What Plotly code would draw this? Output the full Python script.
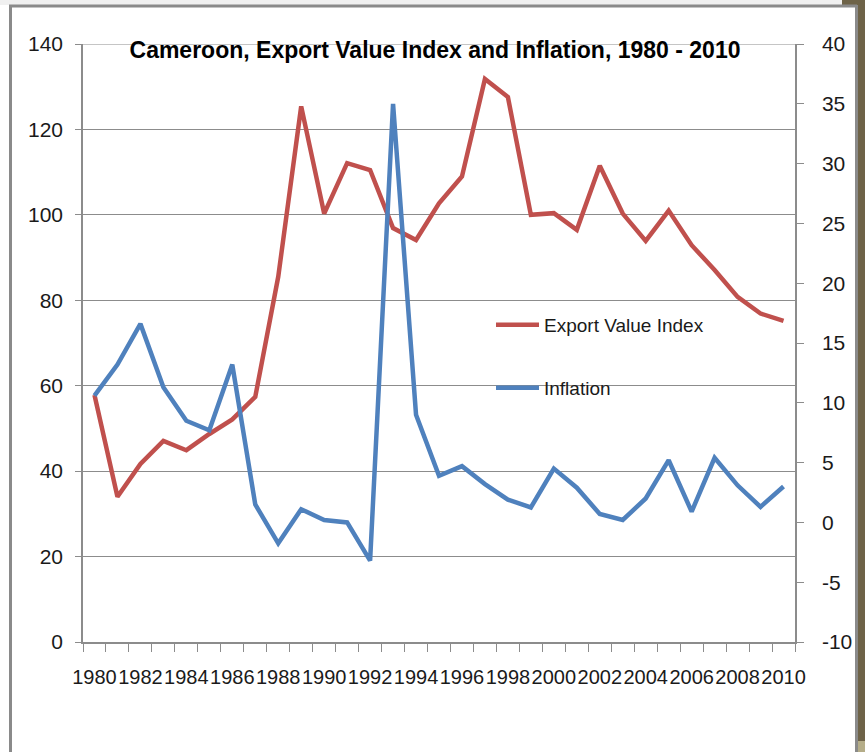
import plotly.graph_objects as go

years = list(range(1980, 2011))
export_value_index = [57.8, 34.0, 41.7, 47.1, 44.9, 48.7, 52.1, 57.4, 85.5, 125.4,
                      100.3, 112.1, 110.5, 96.9, 94.1, 102.7, 109.0, 131.8, 127.6, 100.0,
                      100.4, 96.5, 111.5, 100.3, 93.9, 101.0, 92.9, 87.1, 80.8, 76.9, 75.2]
inflation = [10.6, 13.2, 16.6, 11.3, 8.5, 7.7, 13.2, 1.5, -1.75, 1.1,
             0.2, 0.0, -3.2, 35.0, 9.0, 3.9, 4.7, 3.2, 1.9, 1.25,
             4.5, 2.9, 0.7, 0.2, 2.0, 5.2, 0.9, 5.4, 3.1, 1.3, 3.0]
left_ticks = [0, 20, 40, 60, 80, 100, 120, 140]
right_ticks = [-10, -5, 0, 5, 10, 15, 20, 25, 30, 35, 40]
right_tick_labels = ["-10", "-5", "0", "5", "10", "15", "20", "25", "30", "35", "40"]
title_text = "Cameroon, Export Value Index and Inflation, 1980 - 2010"

FONT = "Liberation Sans, Arial, sans-serif"
RED = "#C0504D"
BLUE = "#4F81BD"
GRID = "#8C8C8C"

W, H = 865, 752
L, R, T, B = 83, 795, 44, 642

def px(x):
    return (x - L) / (R - L)

def py(y):
    return (B - y) / (B - T)

fig = go.Figure()
fig.add_trace(go.Scatter(x=years, y=export_value_index, mode="lines", name="Export Value Index",
                         line=dict(color=RED, width=4.5), yaxis="y", legend="legend", showlegend=True))
fig.add_trace(go.Scatter(x=years, y=inflation, mode="lines", name="Inflation",
                         line=dict(color=BLUE, width=4.5), yaxis="y2", legend="legend2", showlegend=True))

shapes = []
shapes.append(dict(type="rect", xref="paper", yref="paper", x0=px(0), x1=px(842), y0=py(0), y1=py(5),
                   fillcolor="#F0F0F0", line=dict(width=0), layer="below"))
shapes.append(dict(type="rect", xref="paper", yref="paper", x0=px(842), x1=px(865), y0=py(0), y1=py(5),
                   fillcolor="#6E6348", line=dict(width=0), layer="below"))
shapes.append(dict(type="rect", xref="paper", yref="paper", x0=px(858), x1=px(865), y0=py(0), y1=py(741),
                   fillcolor="#6E6348", line=dict(width=0), layer="below"))
shapes.append(dict(type="rect", xref="paper", yref="paper", x0=px(858), x1=px(865), y0=py(741), y1=py(752),
                   fillcolor="#B5AD88", line=dict(width=0), layer="below"))
shapes.append(dict(type="line", xref="paper", yref="paper", x0=px(9), x1=px(857), y0=py(6), y1=py(6),
                   line=dict(color="#8A8A8A", width=3), layer="below"))
shapes.append(dict(type="line", xref="paper", yref="paper", x0=px(10.5), x1=px(10.5), y0=py(5), y1=py(752),
                   line=dict(color="#8A8A8A", width=3), layer="below"))
shapes.append(dict(type="line", xref="paper", yref="paper", x0=px(856.5), x1=px(856.5), y0=py(5), y1=py(752),
                   line=dict(color="#8A8A8A", width=3), layer="below"))
# top gridline at the left axis maximum (plotly omits the edge gridline)
shapes.append(dict(type="line", xref="paper", yref="y", x0=0, x1=1, y0=left_ticks[-1], y1=left_ticks[-1],
                   line=dict(color=GRID, width=1.2), layer="below"))

fig.update_layout(
    width=W, height=H,
    margin=dict(l=L, r=W - R, t=T, b=H - B, pad=0),
    paper_bgcolor="white", plot_bgcolor="white",
    showlegend=True,
    font=dict(family=FONT, size=21, color="#1a1a1a"),
    title=dict(text="<b>" + title_text + "</b>", x=435 / W, xanchor="center",
               y=1 - 50 / H, yanchor="middle", font=dict(family=FONT, size=23, color="#000000")),
    xaxis=dict(range=[1979.5, 2010.5], tick0=1980, dtick=2, ticks="", showgrid=False,
               showline=True, linecolor=GRID, linewidth=1.5, tickangle=0, zeroline=False,
               tickfont=dict(size=20), ticklabelstandoff=16,
               minor=dict(tick0=1979.5, dtick=1, ticks="outside", ticklen=8, tickcolor=GRID,
                          tickwidth=1, showgrid=False)),
    yaxis=dict(range=[0, 140], tickvals=left_ticks, ticks="outside", ticklen=6, tickcolor=GRID,
               showgrid=True, gridcolor=GRID, gridwidth=1.2, showline=True, linecolor=GRID,
               linewidth=1.5, zeroline=False, tickfont=dict(size=21), ticklabelstandoff=8),
    yaxis2=dict(range=[-10, 40], tickvals=right_ticks, ticktext=right_tick_labels, overlaying="y",
                side="right", ticks="outside",
                ticklen=7, tickcolor=GRID, showgrid=False, showline=True, linecolor=GRID,
                linewidth=1.5, zeroline=False, tickfont=dict(size=21), ticklabelstandoff=14),
    legend=dict(x=px(491), y=py(325), xanchor="left", yanchor="middle", bgcolor="rgba(0,0,0,0)",
                font=dict(size=19), itemwidth=43, visible=True),
    legend2=dict(x=px(491), y=py(388), xanchor="left", yanchor="middle", bgcolor="rgba(0,0,0,0)",
                 font=dict(size=19), itemwidth=43, visible=True),
    shapes=shapes,
)

fig.write_html("out.html", config={"displayModeBar": False},
               post_script="document.body.style.margin='0px';document.body.style.overflow='hidden';")
